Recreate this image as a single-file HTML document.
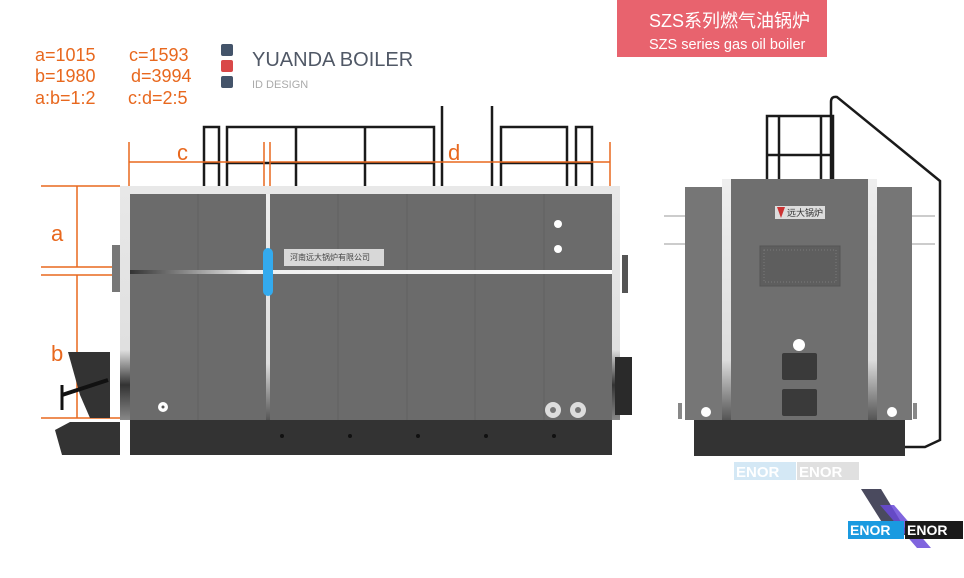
<!DOCTYPE html>
<html><head><meta charset="utf-8"><style>
html,body{margin:0;padding:0;background:#fff;}
svg{display:block;}
.or{font-family:"Liberation Sans","Noto Sans CJK SC",sans-serif;fill:#e8681e;}
</style></head><body>
<svg width="964" height="578" viewBox="0 0 964 578" xmlns="http://www.w3.org/2000/svg">
<defs>
<linearGradient id="band" x1="0" x2="1"><stop offset="0" stop-color="#333"/><stop offset="0.25" stop-color="#eee"/><stop offset="1" stop-color="#fff"/></linearGradient>
<linearGradient id="vstrip" x1="0" y1="0" x2="0" y2="1"><stop offset="0" stop-color="#eee"/><stop offset="0.75" stop-color="#ddd"/><stop offset="1" stop-color="#555"/></linearGradient>
<linearGradient id="frameL" x1="0" y1="0" x2="0" y2="1"><stop offset="0" stop-color="#e8e8e8"/><stop offset="0.7" stop-color="#e0e0e0"/><stop offset="0.85" stop-color="#333"/><stop offset="1" stop-color="#888"/></linearGradient>
</defs>

<rect x="617" y="0" width="210" height="57" fill="#e8636e"/>
<text x="649" y="27" font-family="Liberation Sans,Noto Sans CJK SC,sans-serif" font-size="18" fill="#fff">SZS系列燃气油锅炉</text>
<text x="649" y="49" font-family="Liberation Sans,sans-serif" font-size="14.5" fill="#fff">SZS series gas oil boiler</text>

<text class="or" x="35" y="61" font-size="18">a=1015</text>
<text class="or" x="129" y="61" font-size="18">c=1593</text>
<text class="or" x="35" y="82" font-size="18">b=1980</text>
<text class="or" x="131" y="82" font-size="18">d=3994</text>
<text class="or" x="35" y="104" font-size="18">a:b=1:2</text>
<text class="or" x="128" y="104" font-size="18">c:d=2:5</text>

<rect x="221" y="44" width="12" height="12" rx="2" fill="#44546a"/>
<rect x="221" y="60" width="12" height="12" rx="2" fill="#d94848"/>
<rect x="221" y="76" width="12" height="12" rx="2" fill="#44546a"/>
<text x="252" y="66" font-family="Liberation Sans,sans-serif" font-size="20" fill="#505866">YUANDA BOILER</text>
<text x="252" y="88" font-family="Liberation Sans,sans-serif" font-size="11" fill="#aaa">ID DESIGN</text>

<g stroke="#1a1a1a" stroke-width="2.5" fill="none">
<path d="M204 186V127H219V186M227 186V127H434V186M296 127V186M365 127V186M442 186V106M492 186V106M501 186V127H567V186M576 186V127H592V186"/>
<path d="M204 163H219M227 163H434M501 163H592"/>
</g>

<g stroke="#e8681e" stroke-width="1.5" fill="none">
<path d="M129 142V186M129 162H264M264 142V186M270 142V186M270 162H610M610 142V186"/>
<path d="M41 186H120M77 186V267M41 267H120M41 275H120M77 275V418M41 418H130"/>
</g>
<text class="or" x="177" y="160" font-size="22">c</text>
<text class="or" x="448" y="160" font-size="22">d</text>
<text class="or" x="51" y="241" font-size="22">a</text>
<text class="or" x="51" y="361" font-size="22">b</text>

<rect x="120" y="186" width="500" height="234" fill="url(#frameL)"/>
<rect x="130" y="194" width="482" height="226" fill="#6b6b6b"/>
<g stroke="#606060" stroke-width="1"><path d="M198 194V420M338 194V420M407 194V420M475 194V420M544 194V420"/></g>
<rect x="130" y="270" width="482" height="4" fill="url(#band)"/>
<rect x="266" y="194" width="4" height="226" fill="url(#vstrip)"/>
<rect x="263" y="248" width="10" height="48" rx="5" fill="#33aaee"/>
<rect x="284" y="249" width="100" height="17" fill="#d8d8d8"/>
<text x="290" y="260" font-family="Noto Sans CJK SC,sans-serif" font-size="8" fill="#444">河南远大锅炉有限公司</text>
<circle cx="558" cy="224" r="4" fill="#fff"/><circle cx="558" cy="249" r="4" fill="#fff"/>
<circle cx="553" cy="410" r="8" fill="#ddd"/><circle cx="553" cy="410" r="3" fill="#777"/>
<circle cx="578" cy="410" r="8" fill="#ddd"/><circle cx="578" cy="410" r="3" fill="#777"/>
<circle cx="163" cy="407" r="5" fill="#fff"/><circle cx="163" cy="407" r="1.5" fill="#555"/>
<rect x="130" y="420" width="482" height="35" fill="#333"/>
<g fill="#111"><circle cx="282" cy="436" r="2"/><circle cx="350" cy="436" r="2"/><circle cx="418" cy="436" r="2"/><circle cx="486" cy="436" r="2"/><circle cx="554" cy="436" r="2"/></g>
<rect x="112" y="245" width="8" height="47" fill="#777"/>
<rect x="622" y="255" width="6" height="38" fill="#555"/>
<path d="M68 352H110V418H90L80 395Z" fill="#333"/>
<path d="M55 430L70 422H120V455H62Z" fill="#333"/>
<path d="M62 395L108 380" stroke="#111" stroke-width="4"/>
<path d="M62 385V410" stroke="#111" stroke-width="3"/>
<path d="M615 357H632V415H615Z" fill="#2a2a2a"/>

<g stroke="#1a1a1a" stroke-width="2.5" fill="none">
<path d="M767 179V116H833V179M779 179V116M821 179V116M767 155H833"/>
<path d="M831 179V102Q831 96 837 97L940 181V440L925 447H905"/>
</g>
<rect x="685" y="187" width="38" height="233" fill="#767676"/>
<rect x="876" y="187" width="36" height="233" fill="#767676"/>
<rect x="722" y="179" width="155" height="241" fill="#6f6f6f"/>
<rect x="722" y="179" width="9" height="241" fill="url(#vstrip)"/>
<rect x="868" y="179" width="9" height="241" fill="url(#vstrip)"/>
<rect x="775" y="206" width="50" height="13" fill="#ddd"/>
<text x="787" y="216" font-family="Noto Sans CJK SC,sans-serif" font-size="9" fill="#333">远大锅炉</text>
<path d="M777 207L785 207L781 218Z" fill="#c33"/>
<rect x="760" y="246" width="80" height="40" fill="#5e5e5e" stroke="#555"/>
<rect x="764" y="250" width="72" height="32" fill="none" stroke="#7a7a7a" stroke-dasharray="1 2"/>
<circle cx="799" cy="345" r="6" fill="#fff"/>
<rect x="782" y="353" width="35" height="27" rx="2" fill="#3a3a3a"/>
<rect x="782" y="389" width="35" height="27" rx="2" fill="#3a3a3a"/>
<circle cx="706" cy="412" r="5" fill="#fff"/><circle cx="892" cy="412" r="5" fill="#fff"/>
<rect x="694" y="420" width="211" height="36" fill="#333"/>
<g stroke="#999" stroke-width="1"><path d="M664 216H685M664 244H685M912 216H935M912 244H935"/></g>
<rect x="678" y="403" width="4" height="16" fill="#888"/><rect x="913" y="403" width="4" height="16" fill="#888"/>

<rect x="734" y="462" width="62" height="18" fill="#d4e8f5"/>
<rect x="797" y="462" width="62" height="18" fill="#e0e0e0"/>
<text x="736" y="477" font-family="Liberation Sans,sans-serif" font-size="15" font-weight="bold" fill="#fff">ENOR</text>
<text x="799" y="477" font-family="Liberation Sans,sans-serif" font-size="15" font-weight="bold" fill="#fff">ENOR</text>

<path d="M861 489L881 489L909 535L890 535Z" fill="#4a4a5e"/>
<path d="M880 505L894 505L931 548L917 548Z" fill="#6a4ad8" opacity="0.85"/>
<rect x="848" y="521" width="56" height="18" fill="#1a9ae0"/>
<rect x="905" y="521" width="58" height="18" fill="#1a1a1a"/>
<text x="850" y="535" font-family="Liberation Sans,sans-serif" font-size="14" font-weight="bold" fill="#fff">ENOR</text>
<text x="907" y="535" font-family="Liberation Sans,sans-serif" font-size="14" font-weight="bold" fill="#fff">ENOR</text>
</svg>
</body></html>
